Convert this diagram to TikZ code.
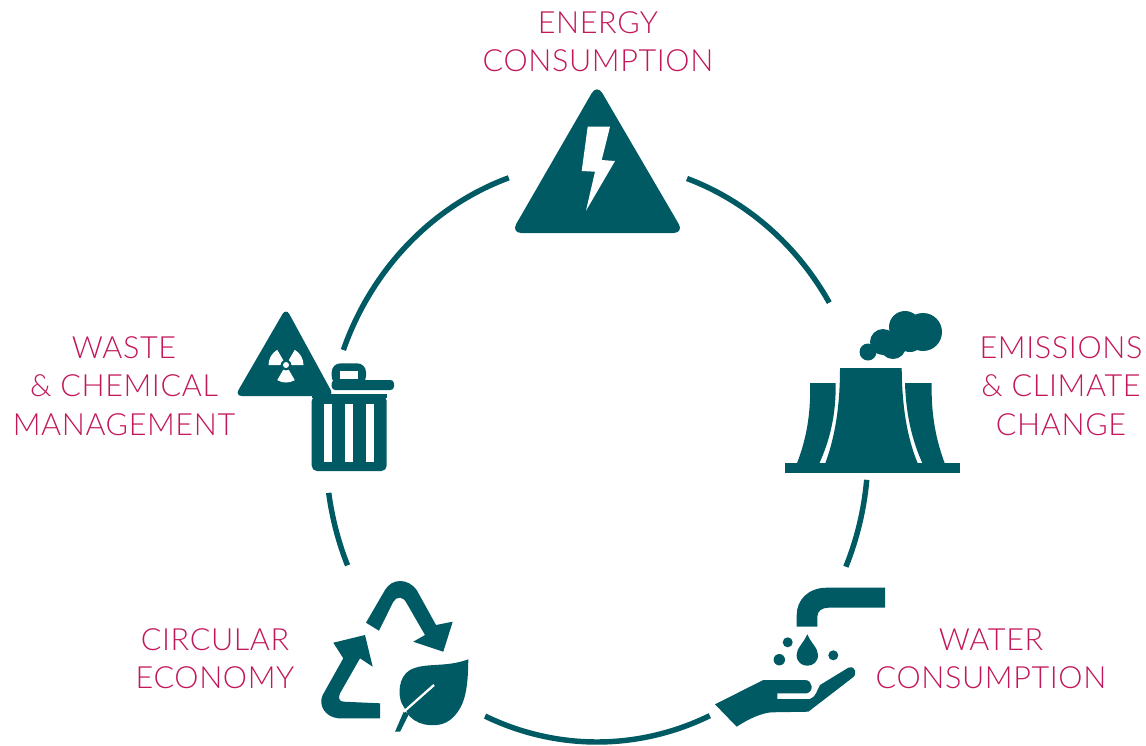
\documentclass[tikz,border=0pt]{standalone}
\usepackage{fontspec}
\setmainfont{Lato}[UprightFont=* Light, LetterSpace=2]
\usetikzlibrary{positioning}
\definecolor{tealdark}{HTML}{005A63}
\definecolor{crimson}{HTML}{C2185B}
\tikzset{
    ring/.style={tealdark, line width=3.1pt},
    icon/.style={fill=tealdark, draw=none},
    cutout/.style={fill=white, draw=none},
    caption/.style={text=crimson, align=center, inner sep=0pt, font=\fontsize{17.4}{21.8}\selectfont}
}

\begin{document}
\begin{tikzpicture}[x=0.02cm, y=-0.02cm]
    \useasboundingbox (0,0) rectangle (1146,745);
    % Ring pieces between the icons
    \coordinate (hub) at (597,452);
    \foreach \from/\to in {-70.6/-31, 5.5/23.3, 65.4/114.4, 157/171.9, 200.6/251}
        \draw[ring] (hub) ++(\from:271 and 290) arc[start angle=\from, end angle=\to, x radius=271, y radius=290];
    % Labels
    \node[caption] (energy) at (598,42) {ENERGY\\CONSUMPTION};
    \node[caption] (emissions) at (1061,386) {EMISSIONS\\\& CLIMATE\\CHANGE};
    \node[caption] (water) at (991,659) {WATER\\CONSUMPTION};
    \node[caption] (circular) at (215,659) {CIRCULAR\\ECONOMY};
    \node[caption] (waste) at (124,386) {WASTE\\\& CHEMICAL\\MANAGEMENT};
    % Energy icon
    \fill[icon, rounded corners=6pt] (597,84) -- (511,233) -- (684,233) -- cycle;
    \fill[cutout] (587.7,126.7) -- (610,126.7) -- (601.7,160) -- (615,161) -- (586,210.7) -- (595,171.7) -- (581.7,171) -- cycle;
    % Emissions icon
    \fill[icon] (785,463) rectangle (960,473);
    \fill[icon] (840,368) -- (901.7,368) .. controls (902,410) and (908,440) .. (918,464) -- (825,464) .. controls (834,440) and (840,410) .. cycle;
    \fill[icon] (810,383) -- (835.7,383) .. controls (836,415) and (830,440) .. (819,464) -- (796.7,464) .. controls (806,440) and (811,415) .. cycle;
    \fill[icon] (905,383) -- (931.7,383) .. controls (931,415) and (936,440) .. (945,464) -- (922.7,464) .. controls (912,440) and (906,415) .. cycle;
    \foreach \cx/\cy/\r in {868/352/8.5, 883/342/13, 893/346/13, 905/327/16, 923/332/19, 910/338/14}
        \fill[icon] (\cx,\cy) circle[radius=\r];
    % Water icon
    \fill[icon] (885,587.7) -- (826.7,587.7) .. controls (808,587.7) and (796.7,600) .. (796.7,615) -- (796.7,626.7) -- (817.3,626.7) -- (817.3,616.7) .. controls (817.3,611) and (822,607.7) .. (828.3,607.7) -- (885,607.7) -- cycle;
    \fill[icon] (807.3,634.3) .. controls (803,644) and (796.6,648) .. (796.6,655) .. controls (796.6,669.3) and (818,669.3) .. (818,655) .. controls (818,648) and (811.6,644) .. cycle;
    \foreach \cx/\cy/\r in {787.7/642.3/5, 779.3/659.7/5.7, 833.3/655.3/5}
        \fill[icon] (\cx,\cy) circle[radius=\r];
    \fill[icon] (715,704.3) -- (763.3,680) -- (805,680) .. controls (813,680) and (814,692) .. (806.7,693.3) -- (777.3,693.3) -- (777.3,699) -- (810,699) .. controls (816,697) and (817,690) .. (820,685) -- (848.3,667.7) .. controls (856,665) and (858,675) .. (851.7,678.3) -- (808.3,711.7) -- (771.7,712.3) .. controls (762,713) and (750,718) .. (736.7,726.7) -- cycle;
    % Recycling icon
    \fill[icon] (366,622.7) -- (385,590) .. controls (392,578) and (408,578) .. (416.7,590) -- (436,625) -- (452.7,621.7) -- (443.3,651.7) -- (413.3,641.7) -- (425,635) -- (406.7,603.3) .. controls (403,596) and (397,596) .. (393.3,601.7) -- (379,630.7) -- cycle;
    \fill[icon] (380,718.3) -- (338.3,718.3) .. controls (325,717) and (318,705) .. (322.7,695) -- (343.3,658.3) -- (333.3,642.7) -- (365,635) -- (372.7,666.7) -- (360,658.3) -- (340,693.3) .. controls (338,698) and (339,701.7) .. (344,701.7) -- (380,703.3) -- cycle;
    \fill[icon] (468.3,659.3) .. controls (445,668) and (425,662) .. (410,670) .. controls (398,677) and (398,695) .. (401.7,703.3) -- (406.7,711.7) -- (410,716.7) .. controls (420,727) and (440,728) .. (450,720) .. controls (465,708) and (468,690) .. cycle;
    \fill[icon] (395,731.7) -- (404,711) -- (409,714) -- (400,731.7) -- cycle;
    \draw[white, line width=1.3pt] (403.8,711.7) -- (434,685);
    % Waste icon
    \fill[icon, rounded corners=4pt] (286,308) -- (235,396) -- (334,396) -- cycle;
    \coordinate (trefoil) at (286,365);
    \fill[cutout] (trefoil) circle[radius=3];
    \foreach \a in {60,180,300}
        \fill[cutout] (trefoil) ++(\a:5.5) arc[start angle=\a, end angle=\a+60, radius=5.5] -- ++(\a+60:12) arc[start angle=\a+60, end angle=\a, radius=17.5] -- cycle;
    \fill[icon, rounded corners=3pt] (311.7,395.7) -- (386.7,395.7) -- (386.7,471) -- (311.7,471) -- cycle;
    \fill[icon] (311.7,394) rectangle (386.7,398);
    \foreach \sx in {324,345,366}
        \fill[cutout] (\sx,404.3) rectangle (\sx+8,461.7);
    \fill[icon, rounded corners=2pt] (331.7,380) rectangle (394,390);
    \fill[icon, rounded corners=5pt] (331.7,385) -- (331.7,363.3) -- (366,363.3) -- (366,385) -- cycle;
    \fill[cutout] (340,371) rectangle (358.3,379);
\end{tikzpicture}
\end{document}
